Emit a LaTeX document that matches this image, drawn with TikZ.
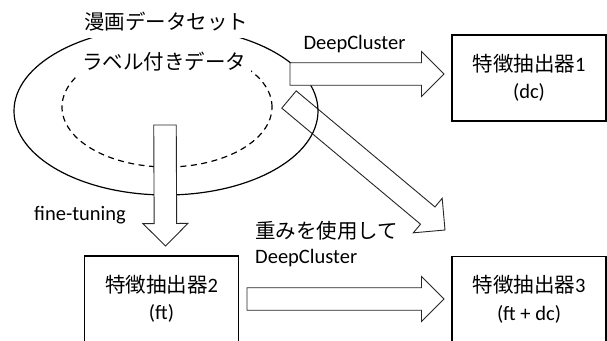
\documentclass[tikz,border=0pt]{standalone}
\usepackage{fontspec}
\setmainfont{Carlito}
\newfontfamily\jp{Noto Sans CJK JP}
\usetikzlibrary{calc}

\tikzset{
  txt/.style={font=\fontsize{20.5}{27.5}\selectfont},
  box/.style={txt, draw=black, line width=1.1pt, fill=white,
    minimum width=154pt, minimum height=86pt, align=center, inner sep=0pt},
  blockarrow/.style={draw=black!85, line width=0.9pt, fill=white, line join=miter},
  ring/.style={draw=black, line width=1.2pt},
  cover/.style={txt, fill=white, inner xsep=4.5pt, inner ysep=6.5pt},
  lbl/.style={txt, inner sep=0pt},
}

% Block arrow from coordinate #1 (tail centre) to coordinate #2 (tip)
\newcommand\blockarrow[2]{%
  \coordinate (#1-#2-h) at ($(#2)!22.5pt!(#1)$);
  \draw[blockarrow]
    ($(#1)!11.25pt!90:(#2)$) -- ($(#1-#2-h)!11.25pt!90:(#2)$)
    -- ($(#1-#2-h)!22.5pt!90:(#2)$) -- (#2)
    -- ($(#1-#2-h)!22.5pt!-90:(#2)$) -- ($(#1-#2-h)!11.25pt!-90:(#2)$)
    -- ($(#1)!11.25pt!-90:(#2)$) -- cycle;
}

\begin{document}
\begin{tikzpicture}[x=1pt, y=-1pt]
  \clip (0,0) rectangle (607,340);
  \fill[white] (0,0) rectangle (607,340);

  % arrow from the data set towards the combined extractor
  \coordinate (dgtail) at (289,99.5);
  \coordinate (dgtip) at (445,230);
  \blockarrow{dgtail}{dgtip}

  % data sets
  \draw[ring] (166,111) ellipse [x radius=152pt, y radius=84pt];
  \draw[ring, dash pattern=on 6pt off 4.5pt] (167,107) ellipse [x radius=105pt, y radius=60pt];
  \node[cover] (ds) at (166,22) {\jp 漫画データセット};
  \node[cover] (lab) at (164,62) {\jp ラベル付きデータ};

  % feature extractors
  \node[box] (f1) at (529,78) {{\jp 特徴抽出器}1\\(dc)};
  \node[box] (f2) at (161.5,299) {{\jp 特徴抽出器}2\\(ft)};
  \node[box] (f3) at (529,299.5) {{\jp 特徴抽出器}3\\(ft + dc)};

  % DeepCluster on the whole data set
  \coordinate (a1tail) at (290,74);
  \coordinate (a1tip) at (444,74);
  \blockarrow{a1tail}{a1tip}

  % fine-tuning on the labelled data
  \coordinate (dntail) at (165,125);
  \coordinate (dntip) at (165.5,246);
  \blockarrow{dntail}{dntip}

  % DeepCluster starting from the fine-tuned weights
  \coordinate (a2tail) at (247,299);
  \coordinate (a2tip) at (444,299);
  \blockarrow{a2tail}{a2tip}

  % labels
  \node[lbl] (dclbl) at (354.5,44) {DeepCluster};
  \node[lbl, anchor=west] (ftlbl) at (34,215) {fine-tuning};
  \node[lbl, anchor=west, align=left, font=\fontsize{20.5}{25}\selectfont]
    (wtlbl) at (255,244) {{\jp 重みを使用して}\\DeepCluster};
\end{tikzpicture}
\end{document}
